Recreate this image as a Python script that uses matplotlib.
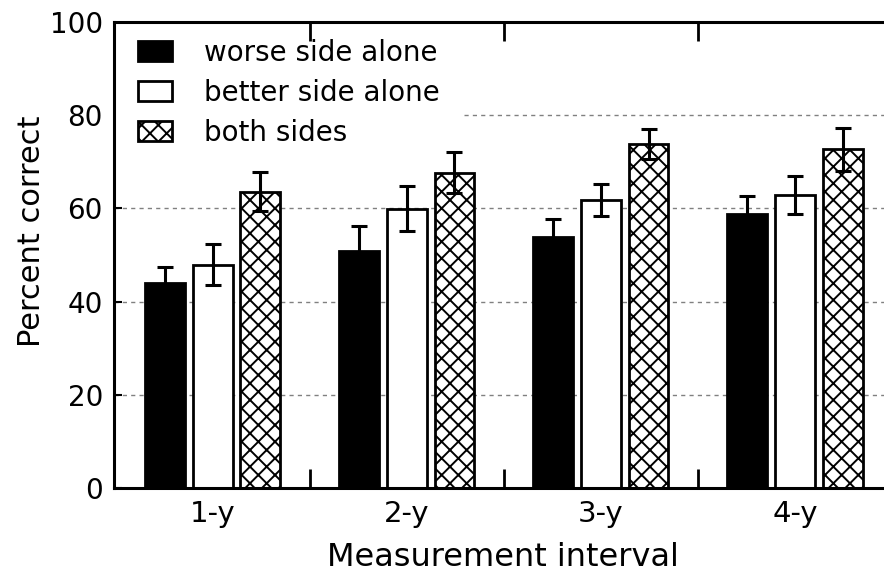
import matplotlib
matplotlib.use("Agg")
import matplotlib.pyplot as plt
import numpy as np

plt.rcParams['hatch.linewidth'] = 1.4
plt.rcParams['font.family'] = ['DejaVu Sans']

categories = ["1-y", "2-y", "3-y", "4-y"]
series_names = ["worse side alone", "better side alone", "both sides"]
worse = [44.0, 50.9, 53.8, 58.9]
worse_err = [3.4, 5.4, 3.9, 3.8]
better = [47.9, 59.9, 61.8, 62.9]
better_err = [4.4, 4.8, 3.5, 4.1]
both = [63.6, 67.7, 73.8, 72.7]
both_err = [4.2, 4.4, 3.2, 4.6]
yticks = [0, 20, 40, 60, 80, 100]

W, H = 884, 576
fig = plt.figure(figsize=(W / 100, H / 100), dpi=100)
ax = fig.add_axes([114 / W, (576 - 488) / H, (892 - 114) / W, (488 - 22) / H])

x = np.arange(len(categories))
bw = 0.206
off = 0.245
styles = [dict(facecolor='black', hatch=None),
          dict(facecolor='white', hatch=None),
          dict(facecolor='white', hatch='xx')]
data = [(worse, worse_err), (better, better_err), (both, both_err)]
handles = []
for i, ((vals, errs), st) in enumerate(zip(data, styles)):
    pos = x + (i - 1) * off
    b = ax.bar(pos, vals, bw, color=st['facecolor'], edgecolor='black',
               linewidth=2.0, hatch=st['hatch'], zorder=2, label=series_names[i])
    handles.append(b)
    ax.errorbar(pos, vals, yerr=errs, fmt='none', ecolor='black',
                elinewidth=2.2, capsize=5.8, capthick=2.2, zorder=3)

ax.set_xlim(-0.51, 3.5)
ax.set_ylim(0, 100)
ax.set_yticks(yticks)
ax.set_xticks(x)
ax.set_xticklabels(categories)
ax.set_xticks([0.5, 1.5, 2.5], minor=True)
ax.tick_params(axis='x', which='major', length=0, labelsize=21, pad=9)
ax.tick_params(axis='x', which='minor', direction='in', length=14, width=2,
               top=True, bottom=True)
ax.tick_params(axis='y', direction='in', length=6, width=1.5, labelsize=20, pad=8)
ax.xaxis.set_zorder(2.6)

for s in ax.spines.values():
    s.set_linewidth(2.2)
    s.set_zorder(2.7)
ax.spines['right'].set_visible(False)

for yv in [20, 40, 60, 80]:
    ax.axhline(yv, color='#808080', linestyle=(0, (3, 3)), linewidth=1.0, zorder=0)

ax.set_ylabel("Percent correct", fontsize=22)
ax.yaxis.set_label_coords(-0.087, 0.5515)
ax.set_xlabel("Measurement interval", fontsize=23, labelpad=10)

leg = ax.legend(handles=handles, loc='upper left', bbox_to_anchor=(0.0, 1.015),
                fontsize=20, frameon=True, fancybox=False, edgecolor='none',
                facecolor='white', framealpha=1.0, handlelength=1.22,
                handleheight=0.76, handletextpad=1.15, labelspacing=0.43,
                borderpad=0.86, borderaxespad=0.0)
leg.set_zorder(2.4)

fig.savefig("out.png", dpi=100)
